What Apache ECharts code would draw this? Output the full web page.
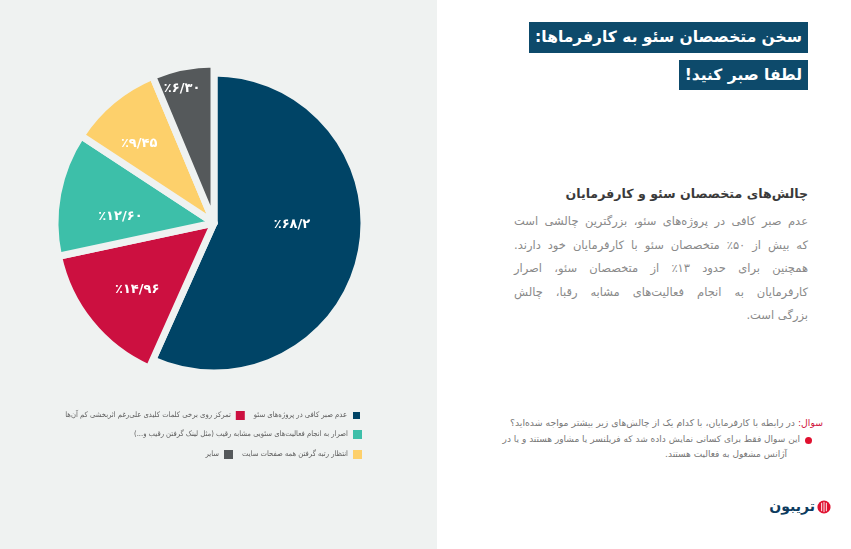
<!DOCTYPE html>
<html>
<head>
<meta charset="utf-8">
<script src="https://cdn.jsdelivr.net/npm/echarts@6/dist/echarts.min.js"></script>
<style>
  html, body { margin:0; padding:0; width:851px; height:549px; overflow:hidden; background:#ffffff; font-family:"DejaVu Sans", sans-serif; }
  #chart { position:absolute; left:0; top:0; width:437px; height:549px; }
  .abs { position:absolute; direction:rtl; }
  .tbox { background:#0d4a6b; color:#fff; font-weight:bold; font-size:15.5px; height:31px; line-height:31px; padding:0 6px; white-space:nowrap; }
  .para div { text-align:justify; text-align-last:justify; white-space:nowrap; }
</style>
</head>
<body>
<div id="chart"></div>

<div class="abs tbox" style="right:43px; top:22px;">سخن متخصصان سئو به کارفرماها:</div>
<div class="abs tbox" style="right:43px; top:60px; height:30px; line-height:30px;">لطفا صبر کنید!</div>

<div class="abs" style="right:43px; top:186px; font-size:12.6px; font-weight:bold; color:#3a3a3a; white-space:nowrap;">چالش‌های متخصصان سئو و کارفرمایان</div>

<div class="abs para" style="right:43px; top:210px; width:294px; font-size:11.5px; line-height:23.5px; color:#8a8a8a;">
  <div>عدم صبر کافی در پروژه‌های سئو، بزرگترین چالشی است</div>
  <div>که بیش از ۵۰٪ متخصصان سئو با کارفرمایان خود دارند.</div>
  <div>همچنین برای حدود ۱۳٪ از متخصصان سئو، اصرار</div>
  <div>کارفرمایان به انجام فعالیت‌های مشابه رقبا، چالش</div>
  <div style="text-align-last:right;">بزرگی است.</div>
</div>

<div class="abs" style="right:28px; top:417px; font-size:9.3px; color:#777; white-space:nowrap;"><span style="color:#d0103a;">سوال:</span> در رابطه با کارفرمایان، با کدام یک از چالش‌های زیر بیشتر مواجه شده‌اید؟</div>
<div style="position:absolute; left:805px; top:437px; width:7px; height:7px; border-radius:50%; background:#e0102f;"></div>
<div class="abs" style="right:51px; top:434px; font-size:9px; color:#777; white-space:nowrap;">این سوال فقط برای کسانی نمایش داده شد که فریلنسر یا مشاور هستند و یا در</div>
<div class="abs" style="right:64px; top:449px; font-size:9px; color:#777; white-space:nowrap;">آژانس مشغول به فعالیت هستند.</div>

<div class="abs" style="right:36px; top:498px; font-size:14px; font-weight:bold; color:#0d3b5e; white-space:nowrap;">تریبون</div>
<svg style="position:absolute; left:817px; top:500px;" width="14" height="14" viewBox="0 0 15 15">
  <circle cx="7.5" cy="7.5" r="7" fill="#e0102f"/>
  <line x1="5" y1="3" x2="5" y2="12" stroke="#fff" stroke-width="1"/>
  <line x1="7.5" y1="2" x2="7.5" y2="13" stroke="#fff" stroke-width="1"/>
  <line x1="10" y1="3" x2="10" y2="12" stroke="#fff" stroke-width="1"/>
</svg>

<script>
const categories = [
  'عدم صبر کافی در پروژه‌های سئو',
  'تمرکز روی برخی کلمات کلیدی علی‌رغم اثربخشی کم آن‌ها',
  'اصرار به انجام فعالیت‌های سئویی مشابه رقیب (مثل لینک گرفتن رقیب و...)',
  'انتظار رتبه گرفتن همه صفحات سایت',
  'سایر'
];
const values = [56.69, 14.96, 12.60, 9.45, 6.30];
const valueLabels = ['٪۶۸/۲', '٪۱۴/۹۶', '٪۱۲/۶۰', '٪۹/۴۵', '٪۶/۳۰'];
const colors = ['#004466', '#cc1040', '#3dbfa9', '#fdd06b', '#55595b'];
// which ring each slice is drawn in: 0 = main (smaller) ring, 1 = outer (pulled-out) ring
const ringOf = [0, 1, 1, 1, 1];
const labelRadius = [0.52, 0.64, 0.59, 0.685, 0.87];
const labelAngleShift = [-11, -2, -7, -3.7, -2];

const legendRows = [
  [1, 0],
  [2],
  [4, 3]
];

const CX = 214, CY = 223;
const RING_R = [150, 159];
const BG = '#eff2f1';
const FONT = '"DejaVu Sans Condensed", "DejaVu Sans", sans-serif';

const chart = echarts.init(document.getElementById('chart'), null, {renderer: 'canvas'});

const legends = legendRows.map((row, i) => ({
  data: row.map(k => ({ name: categories[k], itemStyle: { color: colors[k] } })),
  right: 75,
  top: 410 + i * 20,
  padding: 0,
  orient: 'horizontal',
  align: 'right',
  icon: 'rect',
  itemWidth: 9,
  itemHeight: 9,
  itemGap: 9,
  selectedMode: false,
  formatter: n => '\u202B' + n + '\u202C',
  textStyle: { fontFamily: FONT, fontSize: 7.6, color: '#5e5e5e', padding: [0, 0, 0, 0] }
}));

function ringSeries(ring) {
  const R = RING_R[ring];
  return {
    type: 'pie',
    center: [CX, CY],
    radius: [0, R],
    startAngle: 90,
    clockwise: true,
    silent: true,
    z: 2 + ring,
    itemStyle: { borderColor: BG, borderWidth: 7 },
    label: {
      show: true,
      position: 'inside',
      color: '#ffffff',
      fontFamily: '"DejaVu Sans", sans-serif',
      fontWeight: 'bold',
      fontSize: 13,
      formatter: p => valueLabels[p.dataIndex]
    },
    labelLine: { show: false },
    labelLayout: function (params) {
      const i = params.dataIndex;
      const lr = params.labelRect;
      const lx = lr.x + lr.width / 2, ly = lr.y + lr.height / 2;
      const vx = lx - CX, vy = ly - CY;
      const d = Math.sqrt(vx * vx + vy * vy) || 1;
      const a = labelAngleShift[i] * Math.PI / 180;
      const rx = vx * Math.cos(a) - vy * Math.sin(a);
      const ry = vx * Math.sin(a) + vy * Math.cos(a);
      const k = (labelRadius[i] * R) / d;
      return { dx: rx * k - vx, dy: ry * k - vy };
    },
    data: categories.map((name, i) => {
      const on = ringOf[i] === ring;
      return {
        name: name,
        value: values[i],
        itemStyle: on ? { color: colors[i] } : { color: 'rgba(0,0,0,0)', borderWidth: 0 },
        label: { show: on }
      };
    })
  };
}

chart.setOption({
  backgroundColor: BG,
  animation: false,
  color: colors,
  legend: legends,
  series: [ringSeries(0), ringSeries(1)]
});
</script>
</body>
</html>
